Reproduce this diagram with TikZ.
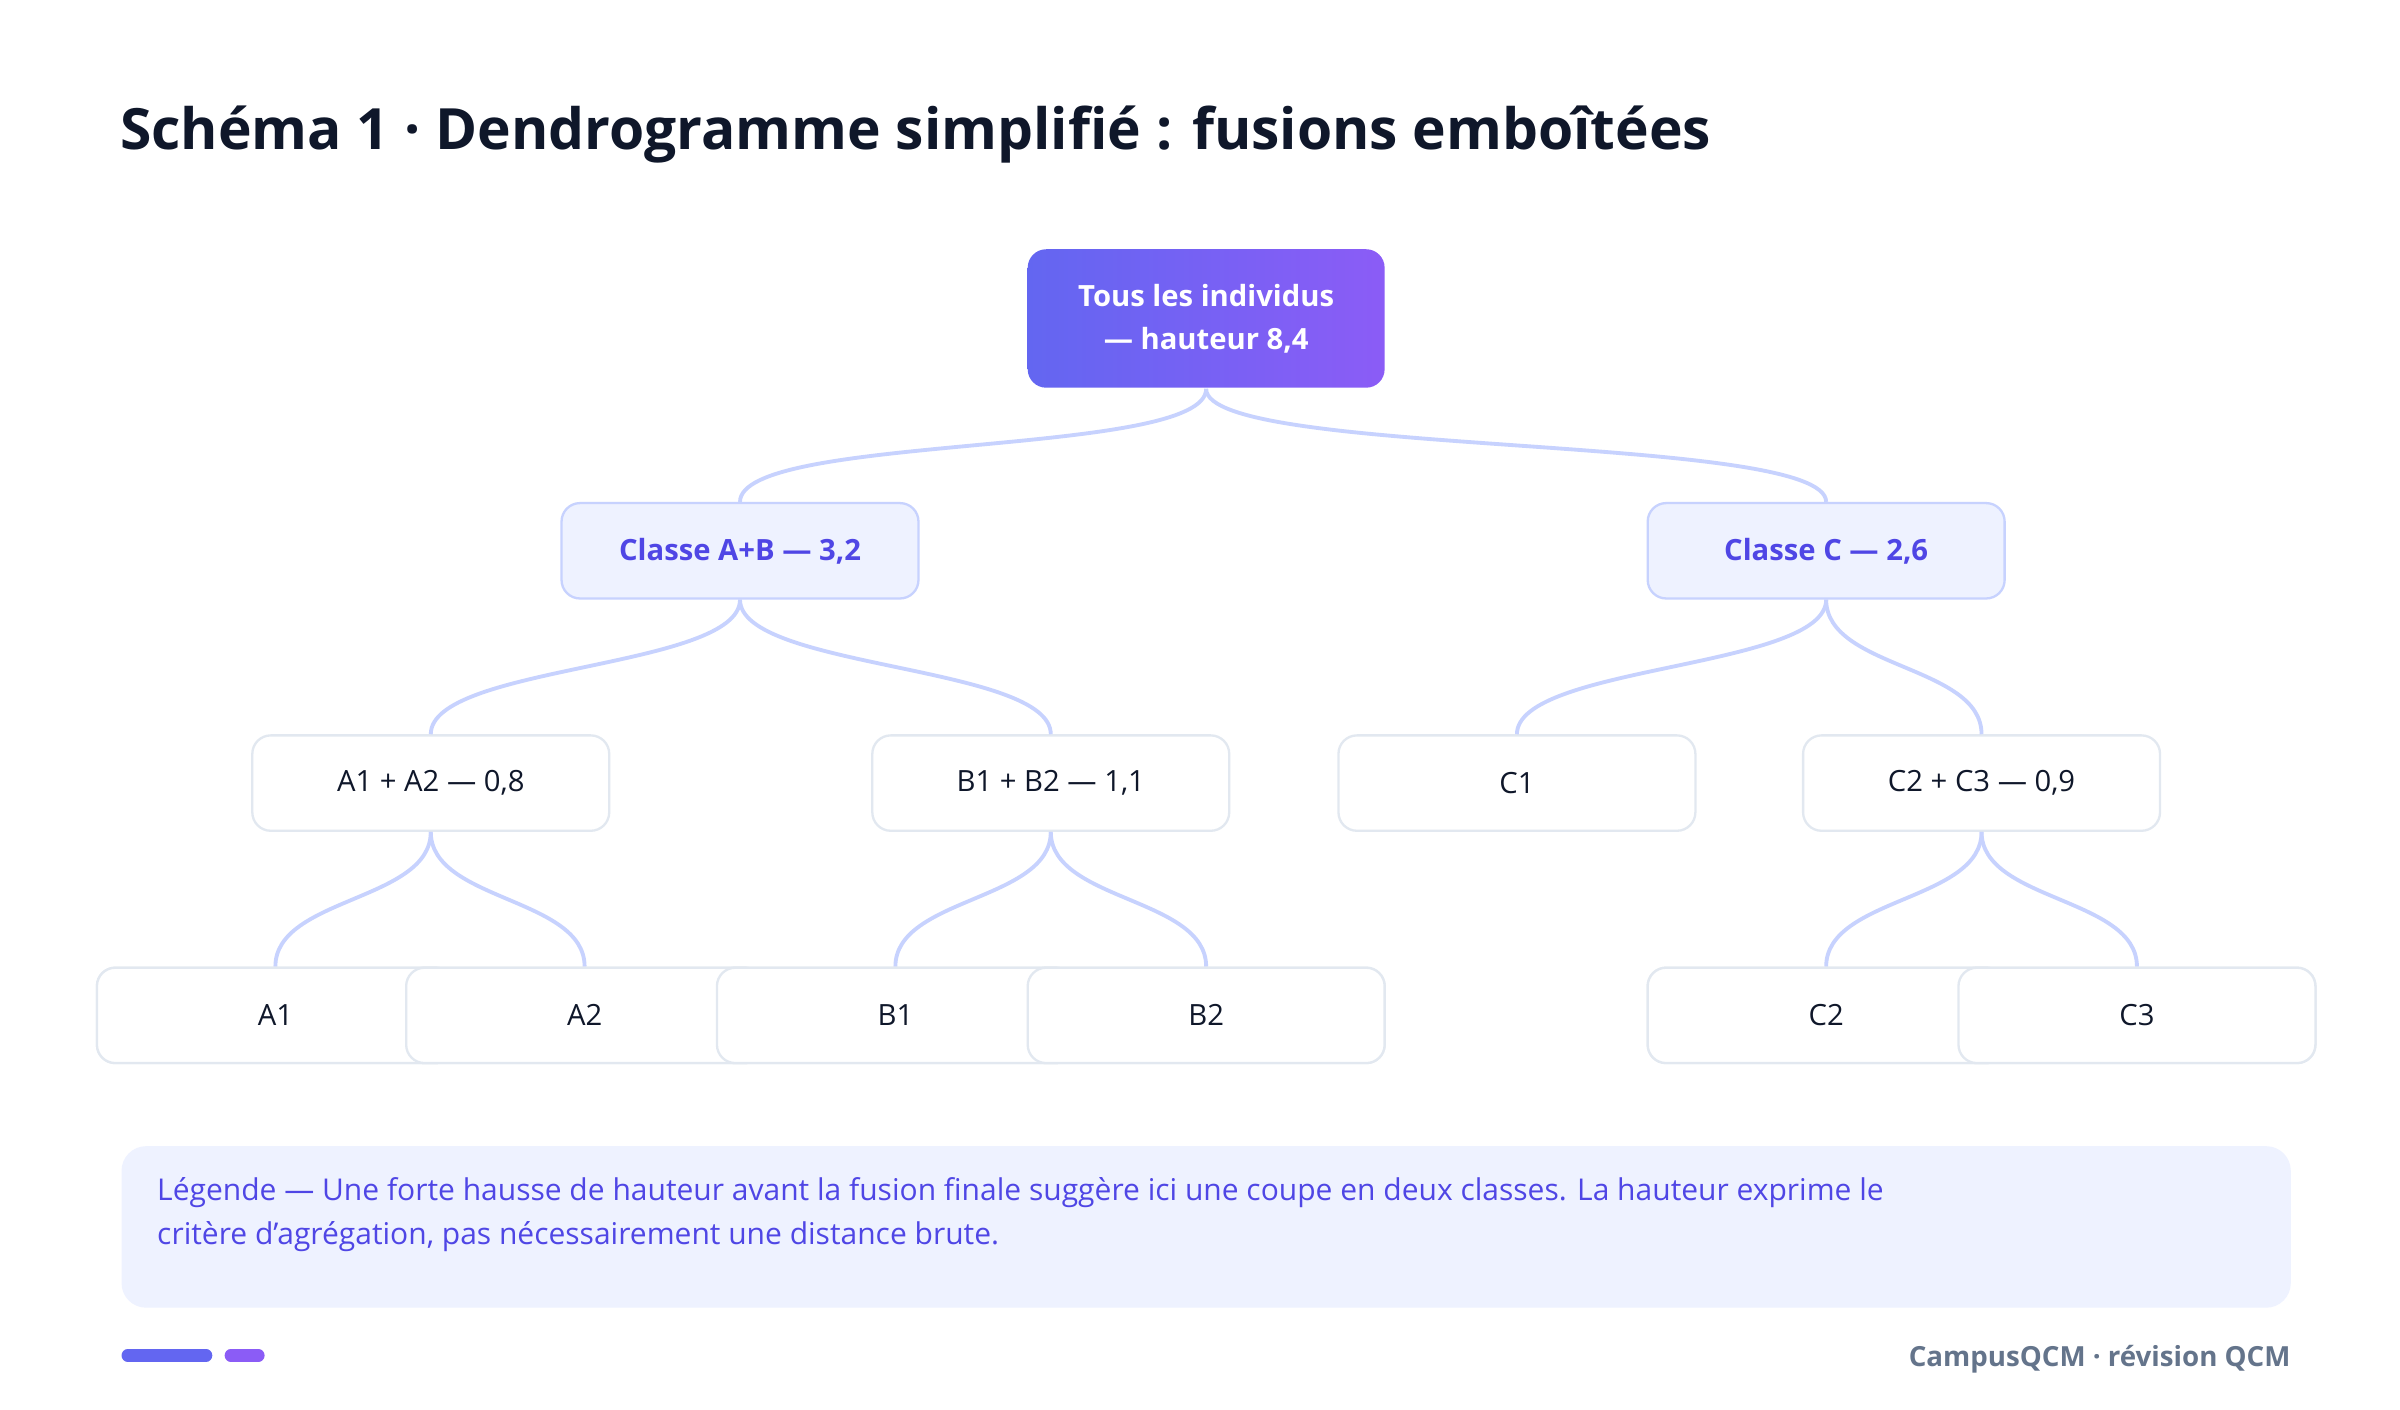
\documentclass[tikz,border=0pt]{standalone}
\usepackage{fontspec}
\setmainfont{Open Sans}
\begin{document}
\begin{tikzpicture}[x=1pt,y=-1pt,
  box/.style={rounded corners=12pt,minimum width=232pt,minimum height=62pt,line width=1.5pt,font=\fontsize{19}{22}\selectfont},
  leaf/.style={box,draw=bordergray,fill=white,text=textdark},
  cls/.style={box,draw=indborder,fill=indfill,text=indtext,font=\fontsize{19}{22}\selectfont\bfseries},
  link/.style={draw=linkc,line width=2.5pt}]
\definecolor{bordergray}{HTML}{E2E8F0}
\definecolor{textdark}{HTML}{0F172A}
\definecolor{indborder}{HTML}{C7D2FE}
\definecolor{indfill}{HTML}{EEF2FF}
\definecolor{indtext}{HTML}{4F46E5}
\definecolor{linkc}{HTML}{C7D2FE}
\definecolor{gA}{HTML}{6366F1}
\definecolor{gB}{HTML}{8B5CF6}
\definecolor{foot}{HTML}{64748B}
\useasboundingbox[fill=white] (0,0) rectangle (1560,916);
\node[anchor=base west,text=textdark,font=\fontsize{37}{40}\selectfont\bfseries,inner sep=0pt] (title) at (78,97) {Schéma 1 · Dendrogramme simplifié : fusions emboîtées};
\node[box,draw=none,minimum height=90pt,left color=gA,right color=gB,text=white,align=center,font=\fontsize{19}{28}\selectfont\bfseries] (root) at (784,207) {Tous les individus\\— hauteur 8,4};
\node[cls] (ab) at (481,358) {Classe A+B — 3,2};
\node[cls] (c) at (1187,358) {Classe C — 2,6};
\node[leaf] (a12) at (280,509) {A1 + A2 — 0,8};
\node[leaf] (b12) at (683,509) {B1 + B2 — 1,1};
\node[leaf] (c1) at (986,509) {C1};
\node[leaf] (c23) at (1288,509) {C2 + C3 — 0,9};
\node[leaf] (a1) at (179,660) {A1};
\node[leaf] (a2) at (380,660) {A2};
\node[leaf] (b1) at (582,660) {B1};
\node[leaf] (b2) at (784,660) {B2};
\node[leaf] (c2) at (1187,660) {C2};
\node[leaf] (c3) at (1389,660) {C3};
\foreach \p/\q in {root/ab,root/c,ab/a12,ab/b12,c/c1,c/c23,a12/a1,a12/a2,b12/b1,b12/b2,c23/c2,c23/c3}{
  \draw[link] (\p.south) .. controls ([yshift=-45pt]\p.south) and ([yshift=45pt]\q.north) .. (\q.north);
}
\foreach \x/\t in {179/A1,380/A2,582/B1,784/B2,1187/C2,1389/C3}{
  \node[leaf] at (\x,660) {\t};
}
\node[fill=indfill,rounded corners=16pt,minimum width=1410pt,minimum height=105pt] (leg) at (784,797.5) {};
\node[anchor=north west,text=indtext,align=left,font=\fontsize{19.5}{29}\selectfont,inner sep=0pt] (legt) at (102,765) {Légende — Une forte hausse de hauteur avant la fusion finale suggère ici une coupe en deux classes. La hauteur exprime le\\critère d'agrégation, pas nécessairement une distance brute.};
\draw[gA,line width=8pt,line cap=round] (83,881) -- (134,881);
\draw[gB,line width=8pt,line cap=round] (150,881) -- (168,881);
\node[anchor=base east,text=foot,font=\fontsize{18}{20}\selectfont\bfseries,inner sep=0pt] (ft) at (1489,888) {CampusQCM · révision QCM};
\end{tikzpicture}
\end{document}
